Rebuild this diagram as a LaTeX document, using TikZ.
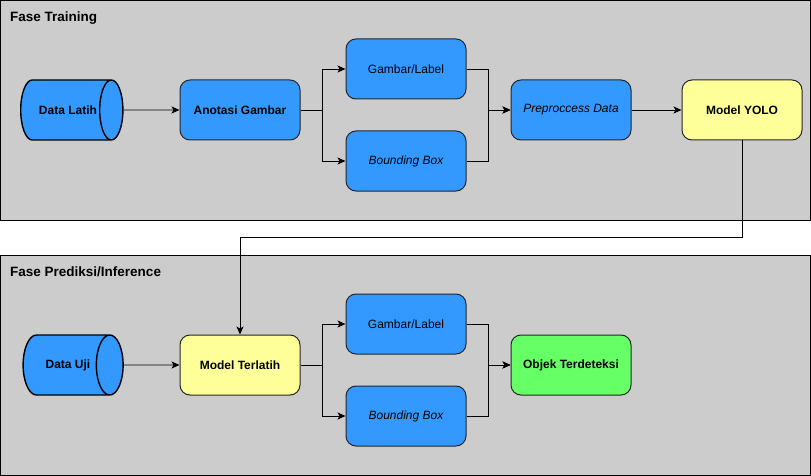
\documentclass[tikz,border=0pt]{standalone}
\usepackage{fontspec}
\setmainfont{Liberation Sans}
\usepackage{tikz}
\usetikzlibrary{shapes.geometric, positioning, arrows.meta}

\definecolor{panelgray}{HTML}{CCCCCC}
\definecolor{boxblue}{HTML}{3399FF}
\definecolor{boxyellow}{HTML}{FFFF99}
\definecolor{boxgreen}{HTML}{66FF66}

\newcommand{\boxfont}{\fontsize{12}{14}\selectfont}

\tikzset{
	panel/.style={draw=black, fill=panelgray, line width=1pt},
	title/.style={anchor=west, inner sep=0pt, font=\fontsize{13.5}{16}\selectfont\bfseries},
	proc/.style={draw=black!85, rounded corners=10pt, line width=1pt, minimum width=120pt, minimum height=60pt, fill=boxblue, font=\boxfont},
	bold/.style={font=\boxfont\bfseries},
	ital/.style={font=\boxfont\itshape},
	model/.style={proc, fill=boxyellow, bold},
	data/.style={cylinder, draw=black, line width=1.4pt, fill=boxblue, minimum width=60pt, minimum height=100pt, aspect=1.5, inner xsep=2pt, bold},
	arrow/.style={-{Stealth[length=8pt, width=7pt, inset=2pt]}, line width=0.9pt, black},
}

\begin{document}
\begin{tikzpicture}[x=1pt, y=-1pt]
		\useasboundingbox (0,0) rectangle (811,476);
		% containers
		\draw[panel] (0.5,0.5) rectangle (810.5,220);
		\draw[panel] (0.5,255) rectangle (810.5,475.5);
		\node[title] (t1) at (10,18) {Fase Training};
		\node[title] (t2) at (10,272) {Fase Prediksi/Inference};
		
		% fase training
		\node[data] (dl) at (63,110) {\hspace*{10pt}Data Latih};
		\node[proc, bold] (anot) at (240,110) {Anotasi Gambar};
		\node[proc, above right=-20pt and 45pt of anot] (gl1) {Gambar/Label};
		\node[proc, below right=-10pt and 45pt of anot, ital] (bb1) {Bounding Box};
		\node[proc, right=210pt of anot, ital] (pre) {Preproccess Data};
		\node[model, right=50pt of pre] (yolo) {Model YOLO};
		
		\draw[arrow] (dl) -- (anot);
		\draw[arrow] (anot.east) -- ++(22,0) |- (gl1.west);
		\draw[arrow] (anot.east) -- ++(22,0) |- (bb1.west);
		\draw[arrow] (gl1.east) -- ++(22,0) |- (pre.west);
		\draw[arrow] (bb1.east) -- ++(22,0) |- (pre.west);
		\draw[arrow] (pre) -- (yolo);
		
		% fase prediksi
		\node[data] (du) at (63,365) {\hspace*{10pt}Data Uji};
		\node[model] (mt) at (240,365) {Model Terlatih};
		\node[proc, above right=-20pt and 45pt of mt] (gl2) {Gambar/Label};
		\node[proc, below right=-10pt and 45pt of mt, ital] (bb2) {Bounding Box};
		\node[proc, right=210pt of mt, fill=boxgreen, bold] (obj) {Objek Terdeteksi};
		
		\draw[arrow] (du) -- (mt);
		\draw[arrow] (mt.east) -- ++(22,0) |- (gl2.west);
		\draw[arrow] (mt.east) -- ++(22,0) |- (bb2.west);
		\draw[arrow] (gl2.east) -- ++(22,0) |- (obj.west);
		\draw[arrow] (bb2.east) -- ++(22,0) |- (obj.west);
		
		\draw[arrow] (yolo.south) -- ++(0,97) -| (mt.north);
	\end{tikzpicture}
\end{document}
